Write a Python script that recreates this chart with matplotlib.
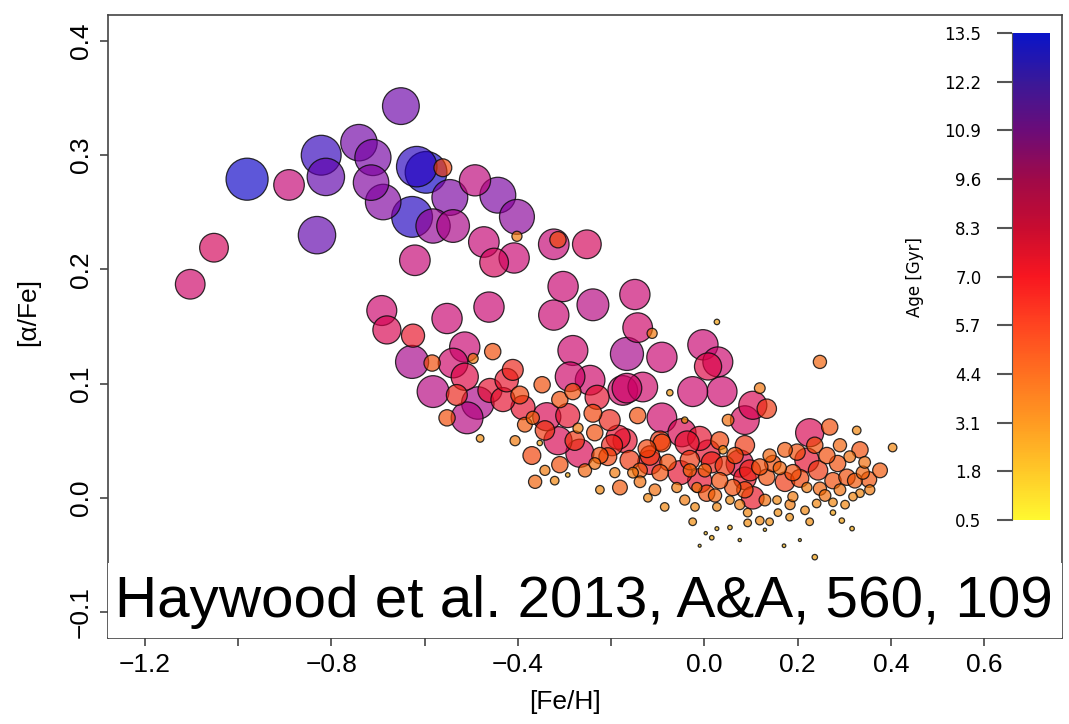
import numpy as np
import matplotlib
matplotlib.use("Agg")
import matplotlib.pyplot as plt
from matplotlib.colors import LinearSegmentedColormap, Normalize
from matplotlib.cm import ScalarMappable

# [Fe/H], [alpha/Fe] and age (Gyr) of each star
feh = [
    -0.651, -0.981, -0.891, -0.822, -0.812, -0.741, -0.711, -0.715, -0.689, -0.617,
    -0.597, -0.561, -0.627, -0.582, -0.539, -0.546, -0.492, -0.443, -0.402, -0.402,
    -0.473, -0.451, -0.408, -0.323, -0.314, -0.252, -0.303, -0.323, -0.239, -0.831,
    -1.052, -1.103, -0.621, -0.692, -0.681, -0.625, -0.552, -0.462, -0.149, -0.143,
    -0.112, -0.166, -0.091, -0.003, 0.029, 0.008, 0.027, -0.025, 0.038, -0.074,
    -0.166, -0.132, -0.143, -0.091, -0.042, 0.119, 0.134, 0.104, 0.087, 0.051,
    0.248, 0.226, 0.269, 0.327, 0.404, 0.353, -0.282, -0.454, -0.514, -0.496,
    -0.539, -0.514, -0.627, -0.584, -0.582, -0.531, -0.486, -0.552, -0.509, -0.481,
    -0.411, -0.424, -0.432, -0.389, -0.348, -0.338, -0.368, -0.370, -0.353, -0.363,
    -0.314, -0.288, -0.282, -0.293, -0.267, -0.245, -0.230, -0.239, -0.235, -0.203,
    -0.185, -0.207, -0.235, -0.271, -0.293, -0.224, -0.181, -0.153, -0.192, -0.175,
    -0.170, -0.123, -0.091, -0.037, -0.010, -0.048, 0.008, 0.040, 0.076, 0.119,
    0.147, -0.052, -0.010, -0.095, -0.138, 0.033, 0.061, 0.087, 0.104, 0.134,
    0.190, 0.220, 0.199, 0.263, 0.286, 0.312, 0.306, 0.340, 0.276, 0.190,
    0.220, 0.241, 0.276, 0.319, 0.334, 0.156, 0.005, -0.016, -0.059, -0.085,
    -0.121, -0.020, 0.027, 0.055, 0.093, 0.119, 0.140, 0.093, 0.158, 0.183,
    0.226, 0.276, 0.295, 0.317, -0.025, 0.027, 0.055, 0.003, 0.016, 0.171,
    0.237, -0.031, -0.117, 0.044, 0.173, 0.244, 0.140, 0.001, 0.087,
    -0.117, -0.078, -0.031, 0.016, 0.066, 0.098, 0.162, 0.205, 0.248, 0.291,
    0.323, 0.344, -0.138, -0.106, -0.042, 0.023, 0.076, 0.130, 0.184, 0.216,
    0.259, 0.302, 0.355, 0.377, -0.095, 0.033, 0.087, 0.173, 0.237, 0.291,
    0.334, -0.160, -0.198, -0.224, -0.256, -0.278, -0.310, -0.342, -0.385, -0.406,
    -0.342, -0.321, -0.396, -0.460, -0.310, 0.076, 0.130, 0.205, -0.010,
]
alpha_fe = [
    0.343, 0.279, 0.274, 0.300, 0.281, 0.311, 0.298, 0.276, 0.259, 0.290,
    0.285, 0.289, 0.246, 0.238, 0.238, 0.263, 0.278, 0.265, 0.246, 0.229,
    0.224, 0.206, 0.210, 0.222, 0.226, 0.222, 0.185, 0.160, 0.169, 0.230,
    0.219, 0.187, 0.208, 0.164, 0.147, 0.142, 0.157, 0.167, 0.178, 0.149,
    0.144, 0.126, 0.123, 0.134, 0.119, 0.115, 0.154, 0.093, 0.093, 0.092,
    0.096, 0.097, 0.072, 0.070, 0.068, 0.096, 0.078, 0.081, 0.068, 0.068,
    0.119, 0.057, 0.062, 0.059, 0.044, 0.016, 0.129, 0.128, 0.132, 0.122,
    0.118, 0.106, 0.119, 0.118, 0.093, 0.090, 0.083, 0.070, 0.070, 0.052,
    0.112, 0.103, 0.086, 0.079, 0.099, 0.071, 0.070, 0.037, 0.048, 0.014,
    0.050, 0.106, 0.093, 0.072, 0.039, 0.103, 0.088, 0.074, 0.057, 0.068,
    0.053, 0.036, 0.030, 0.061, 0.020, 0.007, 0.009, 0.022, 0.022, 0.094,
    0.050, 0.043, 0.048, 0.048, 0.052, 0.057, 0.040, 0.042, 0.030, 0.027,
    0.030, 0.022, 0.015, 0.022, 0.014, 0.015, 0.009, 0.007, 0.000, 0.018,
    0.022, 0.033, 0.040, 0.037, 0.030, 0.036, 0.018, 0.022, 0.015, 0.001,
    0.009, -0.005, -0.004, 0.001, 0.004, -0.002, 0.004, 0.009, 0.009, -0.008,
    0.000, -0.008, -0.008, -0.002, -0.013, -0.020, -0.021, -0.022, -0.013, -0.017,
    -0.021, -0.013, -0.020, -0.027, -0.021, -0.027, -0.026, -0.031, -0.035, -0.042,
    -0.052, 0.033, 0.031, 0.028, 0.014, 0.024, 0.037, 0.024, 0.017,
    0.037, 0.031, 0.024, 0.031, 0.037, 0.024, 0.026, 0.017, 0.008, 0.007,
    0.015, 0.031, 0.024, 0.007, -0.002, 0.002, -0.006, -0.002, -0.006, -0.011,
    0.002, -0.006, 0.007, 0.024, 0.050, 0.050, 0.046, 0.042, 0.046, 0.046,
    0.042, 0.033, 0.046, 0.037, 0.024, 0.050, 0.029, 0.059, 0.064, 0.050,
    0.024, 0.015, 0.090, 0.094, 0.086, -0.037, -0.028, -0.037, -0.042,
]
age = [
    11.6, 13.3, 9.6, 12.6, 11.8, 11.5, 11.4, 11.2, 11.2, 12.8,
    13.2, 5.5, 12.9, 10.8, 10.3, 11.3, 9.8, 11.3, 11.0, 3.0,
    9.6, 9.0, 9.5, 9.6, 5.0, 9.0, 9.5, 9.5, 10.0, 11.8,
    9.0, 9.3, 9.6, 9.4, 8.8, 7.2, 9.5, 9.5, 9.5, 9.3,
    3.0, 10.4, 9.5, 9.5, 9.4, 8.5, 1.5, 9.4, 9.4, 1.8,
    9.3, 9.3, 5.0, 9.3, 1.8, 3.2, 6.0, 8.8, 9.0, 3.5,
    4.0, 8.8, 5.0, 2.5, 2.5, 4.8, 9.4, 5.0, 9.5, 3.0,
    9.3, 8.5, 10.4, 5.0, 10.0, 6.5, 10.2, 5.0, 10.0, 2.2,
    6.5, 7.3, 7.5, 7.5, 5.0, 8.8, 4.0, 5.5, 1.5, 4.0,
    8.8, 9.3, 5.0, 7.5, 8.8, 9.3, 7.5, 5.5, 5.0, 6.5,
    7.5, 5.5, 3.5, 3.0, 1.2, 2.5, 4.5, 3.2, 3.0, 9.3,
    7.5, 5.5, 5.5, 7.5, 7.5, 8.8, 7.5, 2.5, 8.5, 5.0,
    5.0, 7.5, 7.5, 5.0, 3.5, 5.0, 5.0, 5.0, 7.0, 5.0,
    5.0, 7.5, 5.0, 5.0, 5.0, 3.5, 5.0, 4.0, 5.0, 3.0,
    3.0, 2.5, 2.5, 2.5, 2.5, 2.5, 5.0, 3.0, 3.0, 2.5,
    2.5, 2.5, 2.5, 2.5, 2.5, 2.5, 2.2, 2.2, 2.2, 2.2,
    2.2, 1.5, 1.5, 1.2, 2.2, 1.0, 1.2, 0.8, 1.2, 0.9,
    1.5, 6.0, 7.5, 6.0, 6.0, 6.0, 4.0, 4.0, 7.0,
    6.0, 5.0, 4.0, 6.5, 5.0, 6.5, 4.0, 5.5, 4.0, 3.5,
    4.5, 3.5, 4.5, 3.5, 3.0, 4.0, 3.0, 3.5, 3.0, 2.5,
    3.5, 2.5, 3.0, 4.5, 6.0, 5.5, 6.0, 4.5, 5.0, 4.0,
    5.0, 6.0, 6.5, 5.0, 4.0, 6.0, 5.0, 6.0, 4.5, 3.0,
    3.0, 2.5, 5.5, 7.5, 5.0, 0.8, 0.8, 0.7, 0.7,
]

cbar_ticks = [0.5, 1.8, 3.1, 4.4, 5.7, 7.0, 8.3, 9.6, 10.9, 12.2, 13.5]
cbar_colors = ["#FFF830", "#FFC828", "#FF9A22", "#FF7020", "#FF4420", "#F81620",
               "#C80C30", "#A00A48", "#6C0C78", "#3A1898", "#0A14C8"]

# the markers are drawn brighter than the bar itself
marker_ages = [0.5, 2.0, 4.0, 5.7, 7.0, 8.5, 9.5, 10.5, 11.5, 12.5, 13.5]
marker_colors = ["#F0B400", "#F08A00", "#F05A00", "#F03800", "#E81020", "#DC0040",
                 "#C8006C", "#A0008C", "#7000A5", "#3800B8", "#0000C8"]

norm = Normalize(vmin=0.5, vmax=13.5)
cmap = LinearSegmentedColormap.from_list("age", cbar_colors)
mcmap = LinearSegmentedColormap.from_list(
    "age_pts", list(zip(norm(marker_ages), marker_colors)))

W, H = 1069, 724
fig = plt.figure(figsize=(W / 100, H / 100), dpi=100)

def px_box(x0, y0, x1, y1):
    # pixel box (top-left origin) -> figure fraction [l, b, w, h]
    return [x0 / W, 1 - y1 / H, (x1 - x0) / W, (y1 - y0) / H]

ax = fig.add_axes(px_box(108, 15, 1062, 638))
ax.set_xlim(-1.2794, 0.7674)
ax.set_ylim(-0.1228, 0.4228)

# oldest first so the small young stars sit on top
order = np.argsort(age, kind="stable")[::-1]
x = np.array(feh)[order]
y = np.array(alpha_fe)[order]
a = np.array(age)[order]
radius_px = 1.55 * a + 0.4
sizes = (2 * radius_px * 0.72) ** 2
face = mcmap(norm(a))
face[:, 3] = 0.66
ax.scatter(x, y, s=sizes, c=face, edgecolors=(0.05, 0.05, 0.05, 0.85),
           linewidths=0.9, zorder=3)

frame_col = "#444444"
for side in ["left", "bottom", "top", "right"]:
    ax.spines[side].set_color(frame_col)
    ax.spines[side].set_linewidth(1.2)

ax.set_xticks(np.arange(-1.2, 0.61, 0.2))
ax.set_xticklabels(["\u22121.2", "", "\u22120.8", "", "\u22120.4", "", "0.0", "0.2", "0.4", "0.6"])
ax.set_yticks([-0.1, 0.0, 0.1, 0.2, 0.3, 0.4])
ax.set_yticklabels(["\u22120.1", "0.0", "0.1", "0.2", "0.3", "0.4"])
ax.tick_params(direction="out", length=6, width=1.2, color=frame_col,
               labelsize=19, pad=5)
for lab in ax.get_yticklabels():
    lab.set_rotation(90)
    lab.set_va("center")
for lab in ax.get_xticklabels() + ax.get_yticklabels():
    lab.set_fontfamily("Liberation Sans")

fig.text(565 / W, 1 - 702 / H, "[Fe/H]", ha="center", va="center",
         fontsize=19, family="Liberation Sans")
fig.text(28 / W, 1 - 312 / H, "[\u03b1/Fe]", ha="center", va="center",
         rotation=90, fontsize=19, family="Liberation Sans")

# white label box over the bottom of the plot
ax.add_patch(plt.Rectangle((108 / W, 1 - 638 / H), (1062 - 108) / W, (638 - 563) / H,
                           transform=fig.transFigure, facecolor="white",
                           edgecolor="none", zorder=5))
ax.text(115 / W, 1 - 617 / H, "Haywood et al. 2013, A&A, 560, 109",
        transform=fig.transFigure, ha="left", va="baseline", fontsize=42,
        family="Liberation Sans", zorder=6)

# colour bar for age
cax = fig.add_axes(px_box(1012, 33, 1050, 520))
sm = ScalarMappable(norm=norm, cmap=cmap)
cb = fig.colorbar(sm, cax=cax)
cb.outline.set_visible(False)
cb.set_ticks(cbar_ticks)
cb.set_ticklabels([f"{t:.1f}" for t in cbar_ticks])
cax.yaxis.set_ticks_position("left")
cax.yaxis.set_label_position("left")
cax.spines["left"].set_visible(True)
cax.spines["left"].set_color("#555555")
cax.tick_params(length=11, width=1.5, color="#555555", labelsize=12, pad=11)
fig.text(915 / W, 1 - 277 / H, "Age [Gyr]", ha="center", va="center",
         rotation=90, fontsize=12)

fig.savefig("out.png", dpi=100)
